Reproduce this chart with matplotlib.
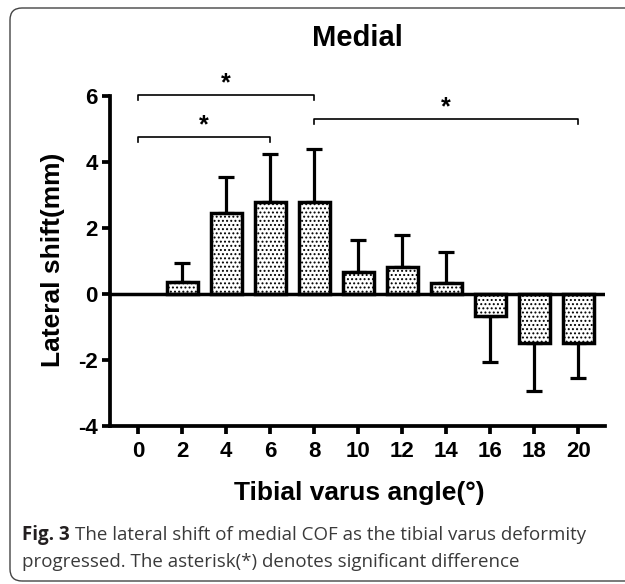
import numpy as np
import matplotlib
matplotlib.use('Agg')
import matplotlib.pyplot as plt
from matplotlib.patches import FancyBboxPatch
from matplotlib.transforms import IdentityTransform

# data
angles = ['0', '2', '4', '6', '8', '10', '12', '14', '16', '18', '20']
shift_mean = [0.0, 0.36, 2.45, 2.79, 2.79, 0.67, 0.82, 0.33, -0.67, -1.48, -1.48]
shift_sd = [0.0, 0.58, 1.09, 1.45, 1.60, 0.97, 0.97, 0.94, 1.39, 1.46, 1.06]
# significance brackets: (from index, to index, height)
brackets = [(0, 4, 6.03), (0, 3, 4.76), (4, 10, 5.3)]

plt.rcParams['font.family'] = ['Liberation Sans', 'DejaVu Sans']
plt.rcParams['font.weight'] = 'bold'
plt.rcParams['hatch.linewidth'] = 0.9
plt.rcParams['axes.unicode_minus'] = False

fig = plt.figure(figsize=(6.25, 5.84), dpi=100)
ax = fig.add_axes([110/625, 1-426/584, 495/625, 330/584])

x = np.arange(len(angles))
mean = np.array(shift_mean)
sd = np.array(shift_sd)
lower = np.where(mean < 0, sd, 0)
upper = np.where(mean >= 0, sd, 0)
edges = ['none' if m == 0 else 'black' for m in mean]
has_err = sd > 0

ax.bar(x, mean, width=0.7, color='white', edgecolor=edges, linewidth=2.5,
       hatch='....', zorder=3)
ax.errorbar(x[has_err], mean[has_err],
            yerr=[lower[has_err], upper[has_err]], fmt='none', ecolor='black',
            elinewidth=2.3, capsize=5.5, capthick=2.3, zorder=2)
ax.axhline(0, color='black', lw=2.5, zorder=4)

for i, j, h in brackets:
    ax.plot([i, i, j, j], [h-0.15, h, h, h-0.15], color='black', lw=1.2,
            clip_on=False)
    ax.text((i+j)/2, h+0.0, '*', ha='center', va='bottom', fontsize=18,
            fontweight='bold')

ax.set_xlim(-0.64, 10.61)
ax.set_ylim(-4, 6)
ax.set_yticks([-4, -2, 0, 2, 4, 6])
ax.set_xticks(x)
ax.set_xticklabels(angles)
for s in ['top', 'right']:
    ax.spines[s].set_visible(False)
for s in ['left', 'bottom']:
    ax.spines[s].set_linewidth(2.7)
ax.tick_params(direction='out', length=6, width=2.7, labelsize=16)
ax.tick_params(axis='y', pad=3)
ax.tick_params(axis='x', pad=5)

fig.text(357/625, 1-37.5/584, 'Medial', ha='center', va='center',
         fontsize=21, fontweight='bold')
fig.text(359/625, 1-493/584, 'Tibial varus angle(°)', ha='center',
         va='center', fontsize=19, fontweight='bold')
fig.text(53/625, 1-260/584, 'Lateral shift(mm)', ha='center', va='center',
         rotation=90, fontsize=19, fontweight='bold')

# caption
cap_font = ['Open Sans', 'DejaVu Sans']
t1 = fig.text(22/625, 1-540/584, 'Fig. 3', family=cap_font, fontsize=13.5,
              fontweight='bold', color='#231f20', va='baseline')
r = fig.canvas.get_renderer()
bb = t1.get_window_extent(renderer=r)
fig.text((bb.x1 + 5)/625, 1-540/584,
         'The lateral shift of medial COF as the tibial varus deformity',
         family=cap_font, fontsize=13.5, fontweight='normal', color='#3a3a3a',
         va='baseline')
fig.text(22/625, 1-567/584,
         'progressed. The asterisk(*) denotes significant difference',
         family=cap_font, fontsize=13.5, fontweight='normal', color='#3a3a3a',
         va='baseline')

frame = FancyBboxPatch((10, 3), 640, 573, boxstyle='round,pad=0,rounding_size=12',
                       transform=IdentityTransform(), fill=False,
                       edgecolor='#444444', lw=1.0)
fig.patches.append(frame)

fig.savefig('out.png', dpi=100)
